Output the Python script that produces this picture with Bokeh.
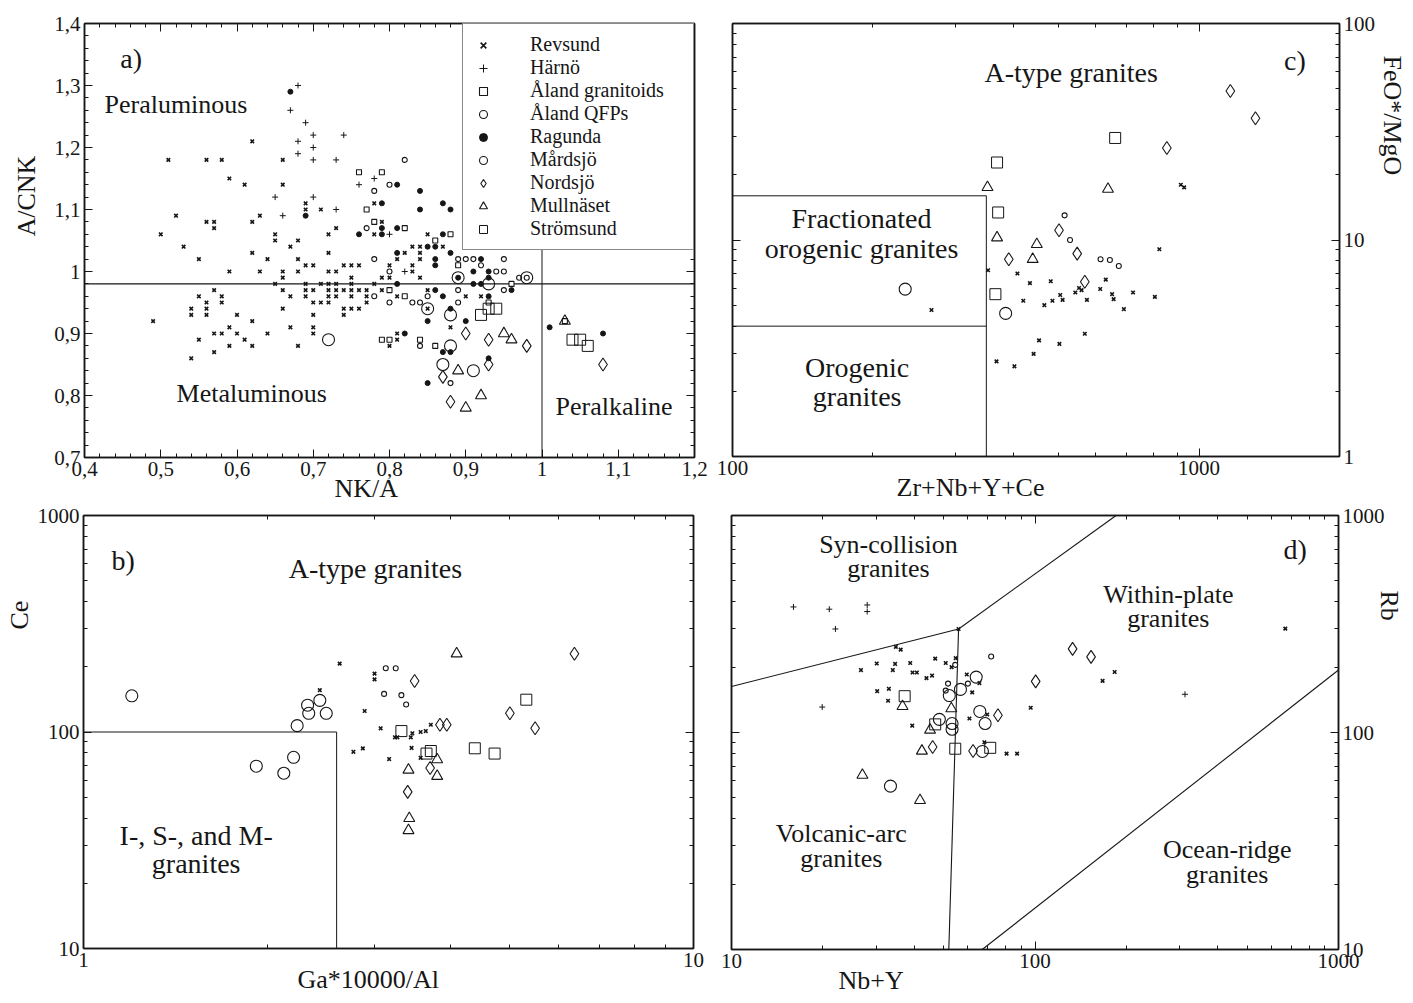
import numpy as np
from bokeh.plotting import figure
from bokeh.models import (LinearAxis, LogAxis, FixedTicker, CustomJSTickFormatter,
                          Legend, LegendItem, Title, Range1d)
from bokeh.layouts import column, row
from bokeh.embed import file_html
from bokeh.resources import INLINE
from bokeh.core.properties import value

FONT = "Liberation Serif"
INK = "#161616"

# ---------------------------------------------------------------- data
SERIES = ["Revsund", "Härnö", "Åland granitoids", "Åland QFPs", "Ragunda",
          "Mårdsjö", "Nordsjö", "Mullnäset", "Strömsund"]

# panel a) NK/A vs A/CNK
A_REVSUND = [(0.50,1.06),(0.51,1.18),(0.52,1.09),(0.53,1.04),(0.56,1.18),(0.58,1.18),(0.56,1.08),(0.57,1.08),
             (0.57,1.07),(0.59,1.15),(0.61,1.14),(0.62,1.21),(0.62,1.08),(0.63,1.09),(0.65,1.06),(0.65,1.05),
             (0.66,1.18),(0.66,1.14),(0.67,1.04),(0.68,1.05),(0.69,1.11),(0.69,1.10),(0.71,1.10),(0.72,1.06),
             (0.73,1.07),(0.78,1.11),(0.79,1.08),(0.78,1.06),(0.85,1.06),(0.83,1.04),(0.84,1.04),(0.87,1.04),
             (0.55,1.02),(0.62,1.03),(0.64,1.02),(0.68,1.02),(0.69,1.01),(0.70,1.01),(0.72,1.03),(0.74,1.01),
             (0.75,1.01),(0.76,1.01),(0.59,1.00),(0.63,1.00),(0.66,1.00),(0.66,0.99),(0.68,1.00),(0.72,1.00),
             (0.73,1.00),(0.75,0.99),(0.79,0.99),(0.80,0.99),(0.80,1.01),(0.81,1.02),(0.82,1.03),(0.83,1.01),
             (0.83,1.00),(0.84,1.03),(0.84,1.02),(0.84,0.99),(0.65,0.98),(0.69,0.98),(0.71,0.98),(0.72,0.98),
             (0.73,0.98),(0.75,0.98),(0.78,0.98),(0.66,0.97),(0.69,0.97),(0.70,0.97),(0.72,0.97),(0.73,0.97),
             (0.74,0.97),(0.75,0.97),(0.76,0.97),(0.77,0.97),(0.79,0.97),(0.55,0.96),(0.58,0.96),(0.57,0.97),
             (0.67,0.96),(0.69,0.96),(0.72,0.96),(0.73,0.96),(0.75,0.96),(0.77,0.96),(0.81,0.96),(0.85,0.97),
             (0.56,0.95),(0.58,0.95),(0.70,0.95),(0.71,0.95),(0.72,0.95),(0.77,0.95),(0.54,0.94),(0.56,0.94),
             (0.66,0.94),(0.74,0.94),(0.75,0.94),(0.76,0.94),(0.54,0.93),(0.56,0.93),(0.60,0.93),(0.70,0.93),
             (0.74,0.93),(0.49,0.92),(0.62,0.92),(0.57,0.90),(0.58,0.90),(0.59,0.91),(0.60,0.90),(0.64,0.90),
             (0.67,0.91),(0.70,0.91),(0.70,0.90),(0.55,0.89),(0.61,0.89),(0.59,0.88),(0.62,0.88),(0.68,0.88),
             (0.54,0.86),(0.57,0.87),(0.81,0.90),(0.81,0.89),(0.80,0.88),(0.85,0.94),(0.88,0.91),(0.90,0.96),
             (0.92,0.96)]
A_HARNO = [(0.68,1.30),(0.67,1.26),(0.69,1.24),(0.70,1.22),(0.68,1.21),(0.70,1.20),(0.68,1.19),(0.70,1.18),
           (0.73,1.18),(0.74,1.22),(0.65,1.12),(0.70,1.12),(0.66,1.09),(0.73,1.10),(0.76,1.14),(0.78,1.15),
           (0.80,1.06),(0.82,1.00)]
A_ALAND_GR = [(0.76,1.16),(0.79,1.16),(0.77,1.10),(0.78,1.08),(0.82,1.07),(0.86,1.05),(0.88,1.06),(0.82,0.96),
              (0.79,0.89),(0.80,0.89),(0.84,0.89),(0.86,0.88),(0.80,0.97),(0.89,1.01),(0.96,0.98),(0.93,0.95),
              (1.03,0.92)]
A_ALAND_QFP = [(0.82,1.18),(0.78,1.13),(0.80,1.14),(0.77,1.07),(0.78,1.02),(0.80,1.00),(0.83,0.95),(0.84,0.95),
               (0.80,0.95),(0.78,0.96),(0.85,0.96),(0.89,0.97),(0.89,0.95),(0.84,0.88),(0.88,0.82),(0.89,1.02),
               (0.90,1.02),(0.91,1.02),(0.92,1.01),(0.95,1.02),(0.94,1.00),(0.95,1.00),(0.97,0.99),(0.98,0.99),
               (0.95,0.97)]
A_RAGUNDA = [(0.67,1.29),(0.69,1.09),(0.81,1.14),(0.79,1.11),(0.79,1.07),(0.76,1.06),(0.79,1.06),(0.81,1.07),
             (0.84,1.13),(0.84,1.10),(0.87,1.11),(0.88,1.10),(0.87,1.06),(0.85,1.04),(0.86,1.04),(0.88,1.03),
             (0.81,1.03),(0.86,1.02),(0.86,1.01),(0.91,1.00),(0.81,0.98),(0.86,0.97),(0.87,0.96),(0.85,0.92),
             (0.88,0.94),(0.90,0.92),(0.82,0.90),(0.87,0.87),(0.88,0.87),(0.85,0.82),(0.91,0.98),(0.92,1.02),
             (0.93,1.00),(0.92,0.98),(0.93,0.99),(0.96,0.97),(0.93,0.96),(0.93,0.86),(1.01,0.91),(1.08,0.90),
             (0.89,0.99)]
A_MARDSJO = [(0.72,0.89),(0.85,0.94),(0.88,0.93),(0.88,0.88),(0.87,0.85),(0.91,0.84),(0.89,0.99),(0.93,0.98),
             (0.98,0.99)]
A_NORDSJO = [(0.90,0.90),(0.87,0.83),(0.88,0.79),(0.93,0.89),(0.98,0.88),(0.93,0.85),(1.08,0.85)]
A_MULLNASET = [(0.89,0.84),(0.90,0.78),(0.92,0.80),(0.95,0.90),(0.96,0.89),(1.03,0.92)]
A_STROMSUND = [(0.92,0.93),(0.93,0.94),(0.94,0.94),(1.04,0.89),(1.05,0.89),(1.06,0.88)]

# panel b) Ga*10000/Al vs Ce
B_REVSUND = [(2.63,207),(2.44,156),(3.0,186),(3.0,175),(2.89,125),(3.07,104),(2.77,81),(2.87,84),(3.17,75),
             (3.24,94.5),(3.27,94.5),(3.44,94.5),(3.46,98.6),(3.45,84.4),(3.57,100),(3.64,101),(3.71,108),
             (3.57,76)]
B_ALAND_QFP = [(3.13,197),(3.25,197),(3.11,150),(3.32,148),(3.38,134)]
B_MARDSJO = [(1.20,147),(2.33,133),(2.44,140),(2.34,122),(2.50,122),(2.24,107),(1.92,69.5),(2.13,64.5),(2.21,76.4)]
B_NORDSJO = [(3.49,172),(3.84,108),(3.94,108),(3.40,52.9),(3.70,68.2),(5.0,122),(5.5,104),(6.38,230)]
B_MULLNASET = [(4.09,230),(3.41,66.8),(3.80,74.6),(3.80,62.5),(3.42,39.9),(3.41,35.1)]
B_STROMSUND = [(3.32,101),(3.65,79.5),(3.71,81.7),(4.38,84.1),(4.72,79.5),(5.32,141)]

# panel c) Zr+Nb+Y+Ce vs FeO*/MgO
C_REVSUND = [(914,18.0),(929,17.5),(822,9.06),(353,7.25),(408,7.0),(434,6.32),(481,6.45),(631,6.56),(614,5.94),
             (553,6.0),(560,5.87),(543,5.72),(504,5.57),(722,5.72),(804,5.46),(651,5.62),(656,5.33),(420,5.24),
             (485,5.24),(510,5.29),(575,5.29),(466,5.0),(690,4.79),(267,4.75),(569,3.69),(454,3.44),(502,3.31),
             (442,2.98),(368,2.75),(402,2.61)]
C_ALAND_QFP = [(515,13.0),(529,10.0),(615,8.15),(644,8.09),(673,7.59)]
C_MARDSJO = [(234.5,5.93),(385,4.58)]
C_NORDSJO = [(1167,48.8),(1321,36.5),(853,26.6),(501,11.1),(548,8.65),(391,8.15),(569,6.41)]
C_MULLNASET = [(352,17.5),(638,17.2),(369,10.25),(449,9.55),(440,8.15)]
C_STROMSUND = [(661,29.6),(369,22.8),(371,13.4),(366,5.62)]

# panel d) Nb+Y vs Rb
D_REVSUND = [(34.8,248),(36.1,241),(26.7,194),(30.1,208),(34.6,207),(38.8,209),(34.0,194),(39.5,189),(40.8,189),
             (43.9,178),(45.8,183),(46.9,219),(50.8,209),(53.1,200),(54.8,220),(59.6,185),(65.6,169),(62.1,153),
             (30.2,155),(33.0,159),(32.8,140),(39.4,107.5),(60.8,116),(69.6,121),(68.1,90.2),(80.6,79.9),
             (87.3,79.9),(96.8,130),(167,173),(183,190),(668,301),(56,300)]
D_HARNO = [(16.0,379),(21.0,370),(28.0,387),(28.0,361),(22.0,300),(19.9,131),(312,150)]
D_ALAND_QFP = [(51.7,168),(50.8,156),(54.6,205),(60.1,168),(71.7,224)]
D_MARDSJO = [(64.0,180),(56.8,158),(52.2,148),(48.4,115),(53.3,110),(53.3,103.5),(65.8,125),(68.5,110),
             (67.1,81.8),(33.4,56.6)]
D_NORDSJO = [(133,243),(153,223),(100.5,172),(75.5,120),(46.0,85.7),(62.5,82.2)]
D_MULLNASET = [(36.6,132),(53.0,129),(45.1,102.7),(42.4,82.2),(27.0,63.7),(41.8,48.7)]
D_STROMSUND = [(37.2,147),(46.9,109),(54.6,84.2),(71.2,85)]

# discrimination boundaries
A_ACNK_LINE = 0.98
A_NKA_LINE = 1.0
A_NKA_LINE_TOP = 1.04
B_BOX = ([1, 2.6, 2.6], [100, 100, 10])
C_FRAC_Y = 16
C_OROG_Y = 4
C_ZR_X = 350
D_SYNCOL_VAG = ([10, 56], [163, 300])
D_SYNCOL_WPG = ([56, 185], [300, 1000])
D_VAG_WPG = ([56, 52], [300, 10])
D_ORG_WPG = ([67, 1000], [10, 194])

# tick labels
A_XTICKS = [0.4, 0.5, 0.6, 0.7, 0.8, 0.9, 1.0, 1.1, 1.2]
A_YTICKS = [0.7, 0.8, 0.9, 1.0, 1.1, 1.2, 1.3, 1.4]
B_XTICKS = [1, 10]
B_YTICKS = [10, 100, 1000]
C_XTICKS = [100, 1000]
C_YTICKS = [1, 10, 100]
D_XTICKS = [10, 100, 1000]
D_YTICKS = [10, 100, 1000]

# ---------------------------------------------------------------- styles
STYLE = {
    "Revsund": dict(marker="x", size=5, line_width=1.6),
    "Härnö": dict(marker="cross", size=6, line_width=1.0),
    "Åland granitoids": dict(marker="square", size=5, line_width=1.1, fill_color="white"),
    "Åland QFPs": dict(marker="circle", size=5, line_width=1.1, fill_color="white"),
    "Ragunda": dict(marker="circle", size=5, line_width=1.0, fill_color=INK),
    "Mårdsjö": dict(marker="circle", size=12, line_width=1.1, fill_color=None),
    "Nordsjö": dict(marker="diamond", size=13, line_width=1.1, fill_color=None),
    "Mullnäset": dict(marker="triangle", size=11, line_width=1.1, fill_color=None),
    "Strömsund": dict(marker="square", size=11, line_width=1.0, fill_color=None),
}

BLANK = CustomJSTickFormatter(code="return ''")
COMMA = CustomJSTickFormatter(code="var v = Math.round(tick*10)/10; return String(v).replace('.', ',');")
INTF = CustomJSTickFormatter(code="return String(Math.round(tick));")


def minor_log(lo, hi):
    out = []
    for e in range(int(np.floor(np.log10(lo))), int(np.ceil(np.log10(hi))) + 1):
        for m in range(2, 10):
            v = m * 10 ** e
            if lo < v < hi:
                out.append(v)
    return out


def minor_lin(lo, hi, step):
    n = int(round((hi - lo) / step))
    return [round(lo + i * step, 4) for i in range(n + 1)]


def style_axis(ax, fs):
    ax.axis_line_color = INK
    ax.axis_line_width = 1.5
    ax.major_tick_in = 8
    ax.major_tick_out = 0
    ax.minor_tick_in = 4
    ax.minor_tick_out = 0
    ax.major_tick_line_color = INK
    ax.minor_tick_line_color = INK
    ax.major_label_text_font = FONT
    ax.major_label_text_font_size = fs
    ax.major_label_text_color = INK
    ax.major_label_standoff = 4


def make_panel(xr, yr, log_x, log_y, fw, fh, bl, br, bt, bb, y_side,
               xticks, xminor, yticks, yminor, xfmt, yfmt, fs):
    p = figure(x_range=Range1d(*xr), y_range=Range1d(*yr),
               x_axis_type="log" if log_x else "linear",
               y_axis_type="log" if log_y else "linear",
               frame_width=fw, frame_height=fh,
               min_border_left=bl, min_border_right=br, min_border_top=bt, min_border_bottom=bb,
               y_axis_location=y_side, output_backend="svg", toolbar_location=None, tools="")
    p.grid.visible = False
    p.outline_line_color = INK
    p.outline_line_width = 1.5
    p.background_fill_color = "white"
    p.border_fill_color = "white"
    xa = p.xaxis[0]
    ya = p.yaxis[0]
    xa.ticker = FixedTicker(ticks=xticks, minor_ticks=xminor)
    ya.ticker = FixedTicker(ticks=yticks, minor_ticks=yminor)
    xa.formatter = xfmt
    ya.formatter = yfmt
    XA = LogAxis if log_x else LinearAxis
    YA = LogAxis if log_y else LinearAxis
    top = XA(ticker=FixedTicker(ticks=xticks, minor_ticks=xminor), formatter=BLANK)
    other = YA(ticker=FixedTicker(ticks=yticks, minor_ticks=yminor), formatter=BLANK)
    p.add_layout(top, "above")
    p.add_layout(other, "left" if y_side == "right" else "right")
    for ax in (xa, ya, top, other):
        style_axis(ax, fs)
    return p


def plot_series(p, name, pts):
    xs = [a for a, b in pts]
    ys = [b for a, b in pts]
    st = dict(STYLE[name])
    return p.scatter(xs, ys, line_color=INK, **st)


def region_text(p, items, size, align="center"):
    p.text(x=[i[0] for i in items], y=[i[1] for i in items], text=[i[2] for i in items],
           text_font=value(FONT), text_font_size=value(size), text_color=INK,
           text_align=align, text_baseline="middle")


def axis_title(p, text, side, offset, standoff):
    t = Title(text=text, align="left", vertical_align="middle", offset=offset, standoff=standoff,
              text_font=FONT, text_font_size="26px", text_font_style="normal", text_color=INK)
    p.add_layout(t, side)


LW = 1.2

# ---------------------------------------------------------------- panel a
pa = make_panel((0.4, 1.2), (0.7, 1.4), False, False, 610, 434, 83, 19, 22, 46, "left",
                A_XTICKS, minor_lin(0.4, 1.2, 0.02), A_YTICKS, minor_lin(0.7, 1.4, 0.02),
                COMMA, COMMA, "21px")
pa.line([0.4, 1.2], [A_ACNK_LINE, A_ACNK_LINE], line_color=INK, line_width=LW)
pa.line([A_NKA_LINE, A_NKA_LINE], [0.7, A_NKA_LINE_TOP], line_color=INK, line_width=1.0)
a_data = [A_REVSUND, A_HARNO, A_ALAND_GR, A_ALAND_QFP, A_RAGUNDA, A_MARDSJO, A_NORDSJO, A_MULLNASET, A_STROMSUND]
items = []
for name, pts in zip(SERIES, a_data):
    r = plot_series(pa, name, pts)
    items.append(LegendItem(label=name, renderers=[r]))
leg = Legend(items=items, location="top_right", margin=0, padding=9, spacing=0,
             glyph_width=22, glyph_height=20, label_height=20, label_width=154, label_standoff=36,
             label_text_font=FONT, label_text_font_size="20px", label_text_color=INK,
             border_line_color=INK, border_line_width=1.2, background_fill_color="white",
             background_fill_alpha=1.0)
pa.add_layout(leg)
region_text(pa, [(0.447, 1.3435, "a)")], "28px", "left")
region_text(pa, [(0.4262, 1.269, "Peraluminous"), (0.5207, 0.803, "Metaluminous"),
                 (1.0177, 0.782, "Peralkaline")], "26px", "left")
axis_title(pa, "A/CNK", "left", 221, 20)
axis_title(pa, "NK/A", "below", 250, -11)

# ---------------------------------------------------------------- panel c
pc = make_panel((100, 2000), (1, 100), True, True, 607, 433, 19, 72, 23, 46, "right",
                C_XTICKS, minor_log(100, 2000), C_YTICKS, minor_log(1, 100),
                INTF, INTF, "21px")
pc.line([100, C_ZR_X], [C_FRAC_Y, C_FRAC_Y], line_color=INK, line_width=1.0)
pc.line([100, C_ZR_X], [C_OROG_Y, C_OROG_Y], line_color=INK, line_width=1.0)
pc.line([C_ZR_X, C_ZR_X], [1, C_FRAC_Y], line_color=INK, line_width=1.0)
for name, pts in [("Revsund", C_REVSUND), ("Åland QFPs", C_ALAND_QFP), ("Mårdsjö", C_MARDSJO),
                  ("Nordsjö", C_NORDSJO), ("Mullnäset", C_MULLNASET), ("Strömsund", C_STROMSUND)]:
    plot_series(pc, name, pts)
region_text(pc, [(532, 59.5, "A-type granites"), (189, 12.6, "Fractionated"),
                 (189, 9.09, "orogenic granites"), (185, 2.57, "Orogenic"), (185, 1.89, "granites")],
            "28px")
region_text(pc, [(1521, 67.5, "c)")], "28px", "left")
axis_title(pc, "Zr+Nb+Y+Ce", "below", 164, -11)
axis_title(pc, "FeO*/MgO", "right", 32, -4)

# ---------------------------------------------------------------- panel b
pb = make_panel((1, 10), (10, 1000), True, True, 610, 433, 83, 19, 13, 52, "left",
                B_XTICKS, minor_log(1, 10), B_YTICKS, minor_log(10, 1000),
                INTF, INTF, "21px")
pb.line(B_BOX[0], B_BOX[1], line_color=INK, line_width=1.0)
for name, pts in [("Revsund", B_REVSUND), ("Åland QFPs", B_ALAND_QFP), ("Mårdsjö", B_MARDSJO),
                  ("Nordsjö", B_NORDSJO), ("Mullnäset", B_MULLNASET), ("Strömsund", B_STROMSUND)]:
    plot_series(pb, name, pts)
region_text(pb, [(1.111, 620, "b)")], "28px", "left")
region_text(pb, [(3.01, 572, "A-type granites"), (1.53, 33.3, "I-, S-, and M-"),
                 (1.53, 24.7, "granites")], "28px")
axis_title(pb, "Ce", "left", 319, 0)
axis_title(pb, "Ga*10000/Al", "below", 214, -11)

# ---------------------------------------------------------------- panel d
pd_ = make_panel((10, 1000), (10, 1000), True, True, 607, 434, 19, 72, 13, 51, "right",
                 D_XTICKS, minor_log(10, 1000), D_YTICKS, minor_log(10, 1000),
                 INTF, INTF, "21px")
for seg in (D_SYNCOL_VAG, D_SYNCOL_WPG, D_VAG_WPG, D_ORG_WPG):
    pd_.line(seg[0], seg[1], line_color=INK, line_width=1.1)
for name, pts in [("Revsund", D_REVSUND), ("Härnö", D_HARNO), ("Åland QFPs", D_ALAND_QFP),
                  ("Mårdsjö", D_MARDSJO), ("Nordsjö", D_NORDSJO), ("Mullnäset", D_MULLNASET),
                  ("Strömsund", D_STROMSUND)]:
    plot_series(pd_, name, pts)
region_text(pd_, [(32.9, 735, "Syn-collision"), (32.9, 570, "granites"),
                  (275, 433, "Within-plate"), (275, 335, "granites"),
                  (23.0, 34.3, "Volcanic-arc"), (23.0, 26.2, "granites"),
                  (430, 28.9, "Ocean-ridge"), (430, 22.2, "granites")], "26px")
region_text(pd_, [(659, 697, "d)")], "28px", "left")
axis_title(pd_, "Nb+Y", "below", 107, -11)
axis_title(pd_, "Rb", "right", 75, -28)

layout = column(row(pa, pc), row(pb, pd_))
open("out.html", "w").write(file_html(layout, INLINE, title="Granite discrimination diagrams"))
